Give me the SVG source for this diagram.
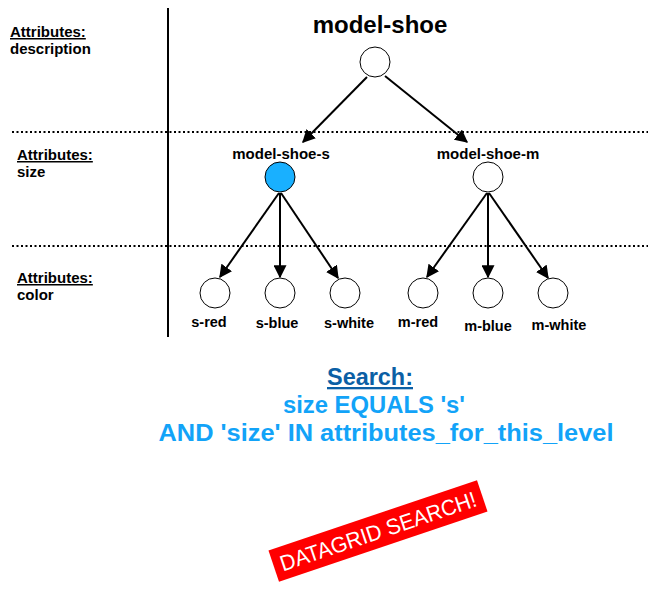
<svg xmlns="http://www.w3.org/2000/svg" width="648" height="602" viewBox="0 0 648 602">
<style>
text{font-family:"Liberation Sans",Arial,sans-serif;font-weight:bold;fill:#000}
.lbl{font-size:15px}
.nl{font-size:15px;text-anchor:middle}
.leaf{font-size:14.5px;text-anchor:middle}
.node{fill:#fff;stroke:#000;stroke-width:1}
.dot{stroke:#000;stroke-width:2;stroke-dasharray:2 2.5}
.edge{stroke:#000;stroke-width:2;fill:none;marker-end:url(#ah)}
.q{font-size:23px;text-anchor:middle;fill:#12a3f8}
</style>
<defs>
<marker id="ah" viewBox="0 0 10 10" refX="9" refY="5" markerWidth="6.5" markerHeight="6.5" markerUnits="strokeWidth" orient="auto">
<path d="M0,0 L10,5 L0,10 z" fill="#000"/>
</marker>
</defs>
<g id="grid">
<line x1="168" y1="8" x2="168" y2="337" stroke="#000" stroke-width="2"/>
<line class="dot" x1="12" y1="132" x2="648" y2="132"/>
<line class="dot" x1="12" y1="246" x2="648" y2="246"/>
</g>
<g id="level-labels">
<text class="lbl" x="10" y="37" text-decoration="underline">Attributes:</text>
<text class="lbl" x="10" y="54">description</text>
<text class="lbl" x="17" y="160" text-decoration="underline">Attributes:</text>
<text class="lbl" x="17" y="177">size</text>
<text class="lbl" x="17" y="283" text-decoration="underline">Attributes:</text>
<text class="lbl" x="17" y="300">color</text>
</g>
<g id="connectors">
<line class="edge" x1="367" y1="77" x2="303" y2="142"/>
<line class="edge" x1="385" y1="76" x2="467" y2="142"/>
<line class="edge" x1="279" y1="193" x2="220" y2="277"/>
<line class="edge" x1="280" y1="193" x2="280" y2="277"/>
<line class="edge" x1="281" y1="193" x2="338" y2="278"/>
<line class="edge" x1="487" y1="193" x2="427" y2="277"/>
<line class="edge" x1="488" y1="193" x2="488" y2="277"/>
<line class="edge" x1="489" y1="193" x2="548" y2="278"/>
</g>
<g id="model-shoe">
<text x="380" y="33" style="font-size:24px;text-anchor:middle">model-shoe</text>
<circle class="node" cx="375" cy="62" r="15"/>
</g>
<g id="model-shoe-s">
<text class="nl" x="281" y="159">model-shoe-s</text>
<circle class="node" cx="280" cy="177" r="15" style="fill:#19b0ff"/>
</g>
<g id="model-shoe-m">
<text class="nl" x="488" y="159">model-shoe-m</text>
<circle class="node" cx="488" cy="177" r="15"/>
</g>
<g id="s-red"><circle class="node" cx="215" cy="293" r="15"/><text class="leaf" x="209" y="327">s-red</text></g>
<g id="s-blue"><circle class="node" cx="280" cy="293" r="15"/><text class="leaf" x="277" y="328">s-blue</text></g>
<g id="s-white"><circle class="node" cx="345" cy="293" r="15"/><text class="leaf" x="349" y="328">s-white</text></g>
<g id="m-red"><circle class="node" cx="423" cy="293" r="15"/><text class="leaf" x="418" y="327">m-red</text></g>
<g id="m-blue"><circle class="node" cx="488" cy="293" r="15"/><text class="leaf" x="488" y="331">m-blue</text></g>
<g id="m-white"><circle class="node" cx="553" cy="293" r="15"/><text class="leaf" x="559" y="330">m-white</text></g>
<g id="search">
<text class="q" x="370" y="385" style="fill:#0b5fa5" text-decoration="underline" textLength="86" lengthAdjust="spacingAndGlyphs">Search:</text>
<text class="q" x="374" y="413" textLength="182" lengthAdjust="spacingAndGlyphs">size EQUALS 's'</text>
<text class="q" x="386" y="441" textLength="455" lengthAdjust="spacingAndGlyphs">AND 'size' IN attributes_for_this_level</text>
</g>
<g id="banner" transform="translate(378 531) rotate(-18.6)">
<rect x="-110" y="-16.5" width="220" height="33" fill="#ff0000"/>
<text x="0" y="8" style="font-size:22px;font-weight:normal;fill:#fff;text-anchor:middle" textLength="206" lengthAdjust="spacingAndGlyphs">DATAGRID SEARCH!</text>
</g>
</svg>
